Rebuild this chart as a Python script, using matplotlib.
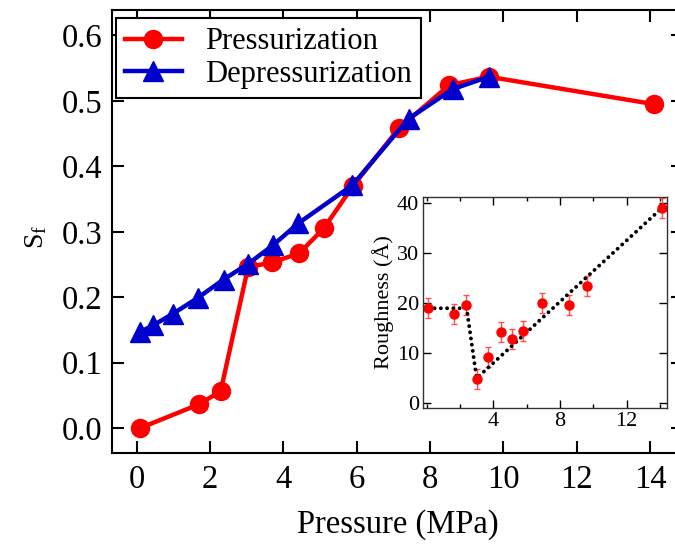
import numpy as np
import matplotlib
matplotlib.use("Agg")
from matplotlib import pyplot as plt
from matplotlib.ticker import MultipleLocator, FormatStrFormatter

plt.rcParams["font.family"] = ["Liberation Serif", "DejaVu Serif"]
plt.rcParams["mathtext.fontset"] = "stix"

# main panel data
p_up = [0.10, 1.69, 2.29, 3.04, 3.69, 4.43, 5.10, 5.90, 7.15, 8.52, 9.60, 14.11]
sf_up = [0.000, 0.036, 0.056, 0.246, 0.253, 0.267, 0.305, 0.370, 0.458, 0.524, 0.537, 0.495]

p_down = [0.10, 0.45, 1.00, 1.67, 2.37, 3.04, 3.71, 4.41, 5.88, 7.42, 8.62, 9.60]
sf_down = [0.147, 0.157, 0.175, 0.199, 0.227, 0.251, 0.279, 0.313, 0.371, 0.473, 0.518, 0.537]

# inset data
p_rough = [0.10, 1.66, 2.36, 3.00, 3.70, 4.46, 5.10, 5.80, 6.90, 8.56, 9.60, 14.10]
rough = [19.1, 17.8, 19.6, 4.9, 9.2, 14.3, 12.9, 14.5, 20.1, 19.6, 23.5, 39.0]
rough_err = [2.0, 2.0, 2.0, 2.0, 2.0, 2.0, 2.0, 2.0, 2.0, 2.0, 2.0, 2.0]

fit_p = [0.10, 2.40, 3.00, 14.10]
fit_r = [19.0, 19.0, 5.0, 39.0]

fig = plt.figure(figsize=(6.75, 5.45), dpi=100)
ax = fig.add_axes([0.1655, 0.1682, 0.8464, 0.8135])

ax.plot(p_up, sf_up, "-o", color="#ff0000", lw=3.2, ms=13, label="Pressurization")
ax.plot(p_down, sf_down, "-^", color="#0000cc", lw=3.2, ms=15, label="Depressurization")

ax.set_xlim(-0.68, 14.9)
ax.set_ylim(-0.0387, 0.639)
ax.set_xticks(np.arange(0, 15, 2))
ax.set_yticks(np.arange(0, 0.61, 0.1))
ax.yaxis.set_major_formatter(FormatStrFormatter("%.1f"))
ax.tick_params(direction="in", length=8.4, width=1.5, top=True, right=True, labelsize=23.5)
ax.tick_params(axis="y", pad=6.5)
ax.tick_params(axis="x", pad=8)
for s in ax.spines.values():
    s.set_linewidth(1.5)
ax.set_xlabel("Pressure (MPa)", fontsize=23.5, labelpad=10)
ax.set_ylabel(r"$\mathregular{S_f}$", fontsize=20)
ax.yaxis.set_label_coords(-0.11, 0.487)

leg = ax.legend(loc="upper left", bbox_to_anchor=(116 / 675, 1 - 18.3 / 545),
                bbox_transform=fig.transFigure, borderaxespad=0, fontsize=22,
                fancybox=False, framealpha=1, edgecolor="black",
                handlelength=1.85, handletextpad=0.76, labelspacing=0.1,
                borderpad=0.3)
leg.get_frame().set_linewidth(1.5)

# inset
ins = fig.add_axes([0.6271, 0.2508, 0.3606, 0.3883])
ins.errorbar(p_rough, rough, yerr=rough_err, fmt="o", color="#ff0000", ms=6.5,
             ecolor="#ff5050", elinewidth=1, capsize=2.5, capthick=1)
ins.plot(fit_p, fit_r, color="black", lw=2.8, linestyle=(0, (0.01, 1.6)),
         dash_capstyle="round", solid_capstyle="round")
ins.set_xlim(-0.2, 14.4)
ins.set_ylim(-1, 41.3)
ins.set_xticks([4, 8, 12])
ins.xaxis.set_minor_locator(MultipleLocator(2))
ins.set_yticks([0, 10, 20, 30, 40])
ins.tick_params(which="major", direction="in", length=5.5, width=1, top=True, right=True, labelsize=16, pad=3)
ins.tick_params(which="minor", direction="in", length=3, width=1, top=True, right=True)
for s in ins.spines.values():
    s.set_linewidth(1)
    s.set_color("#333333")
ins.set_ylabel("Roughness (Å)", fontsize=16, labelpad=2)

fig.savefig("out.png", dpi=100)
